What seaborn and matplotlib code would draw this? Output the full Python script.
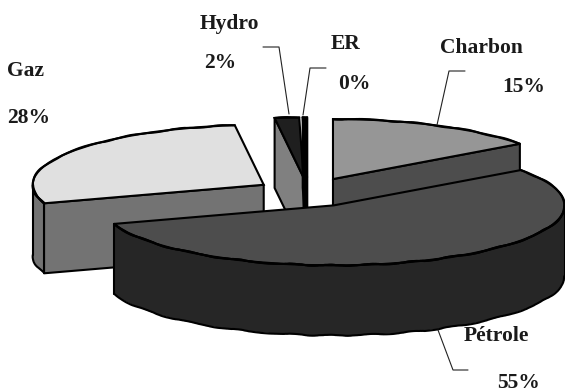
# %%
import numpy as np
import seaborn as sns
import matplotlib.pyplot as plt
from matplotlib.lines import Line2D

sns.set_theme(style="white")
plt.rcParams["font.family"] = ["Liberation Serif", "DejaVu Serif"]
plt.rcParams["font.weight"] = "bold"

W, H = 565, 392

# %%
sources = ["Charbon", "Pétrole", "Gaz", "Hydro", "ER"]
shares = [15, 55, 28, 1.7, 0.3]
percent_labels = ["15%", "55%", "28%", "2%", "0%"]

top_colors = ["#969696", "#4d4d4d", "#e0e0e0", "#1f1f1f", "#000000"]
side_colors = ["#4d4d4d", "#262626", "#737373", "#808080", "#000000"]
draw_order = [3, 4, 0, 2, 1]

explode = [0.242, 0.25, 0.225, 0.242, 0.242]
depth = 70 / 60
lw = 1.5

# pixel positions (left, baseline) of the labels
name_pos = [(440, 53), (464, 341), (7, 76), (200, 29), (331, 49)]
pct_pos = [(502, 92), (497, 388), (7, 123), (204, 68), (338, 89)]
leaders = [
    [(437, 125), (449, 71), (465, 71)],
    [(438, 330), (453, 370), (468, 370)],
    [(289, 114), (279, 47), (263, 47)],
    [(303, 115), (310, 68), (326, 68)],
]

# %%
fig = plt.figure(figsize=(W / 100, H / 100), dpi=100)
ax = fig.add_axes([0, 0, 1, 1])
wedges, _ = ax.pie(shares, explode=explode, startangle=90, counterclock=False,
                   colors=top_colors, wedgeprops={"edgecolor": "black", "linewidth": lw})
ax.set_aspect("auto")
ax.set_xlim(-307.6 / 231, (W - 307.6) / 231)
ax.set_ylim(-(H - 192) / 60, 192 / 60)
ax.axis("off")


def clock(theta):
    # matplotlib angle to clockwise from 12 o'clock
    return (90 - theta) % 360


for z, i in enumerate(draw_order):
    w = wedges[i]
    cx, cy = w.center
    t_end, t_start = w.theta1, w.theta2
    base = 10 + z * 5
    w.set_zorder(base + 2)

    # straight cut faces which look to the viewer
    for t, sign in [(t_start, -1), (t_end, 1)]:
        c = np.radians(clock(t))
        if sign * np.sin(c) > 0:
            x = cx + np.cos(np.radians(t))
            y = cy + np.sin(np.radians(t))
            ax.fill([cx, x, x, cx], [cy, y, y - depth, cy - depth], fc=side_colors[i],
                    ec="black", lw=lw, joinstyle="round", zorder=base)

    # outer wall, lower half of the rim only
    th = np.linspace(t_end, t_start, 200)
    front = np.sin(np.radians(th)) <= 0
    if front.any():
        px = cx + np.cos(np.radians(th[front]))
        py = cy + np.sin(np.radians(th[front]))
        ax.fill(np.r_[px, px[::-1]], np.r_[py, py[::-1] - depth], fc=side_colors[i],
                ec="none", zorder=base + 1)
        for yy in (py, py - depth):
            ln, = ax.plot(px, yy, color="black", lw=lw, zorder=base + 3)
            ln.set_sketch_params(scale=0.6, length=60, randomness=4)
        ax.plot([px[0], px[0]], [py[0], py[0] - depth], color="black", lw=lw, zorder=base + 3)
        ax.plot([px[-1], px[-1]], [py[-1], py[-1] - depth], color="black", lw=lw, zorder=base + 3)

    # wobbly rim of the top face
    ln, = ax.plot(cx + np.cos(np.radians(th)), cy + np.sin(np.radians(th)), color="black",
                  lw=lw, zorder=base + 3)
    ln.set_sketch_params(scale=0.6, length=60, randomness=4)

# %%
for pts in leaders:
    xs = [p[0] / W for p in pts]
    ys = [1 - p[1] / H for p in pts]
    fig.add_artist(Line2D(xs, ys, color="#222222", lw=0.8))

for name, pct, np_, pp in zip(sources, percent_labels, name_pos, pct_pos):
    fig.text(np_[0] / W, 1 - np_[1] / H, name, fontsize=15.5, color="#1a1a1a", fontweight="bold")
    fig.text(pp[0] / W, 1 - pp[1] / H, pct, fontsize=15.5, color="#1a1a1a", fontweight="bold")

plt.savefig("out.png", dpi=100)
